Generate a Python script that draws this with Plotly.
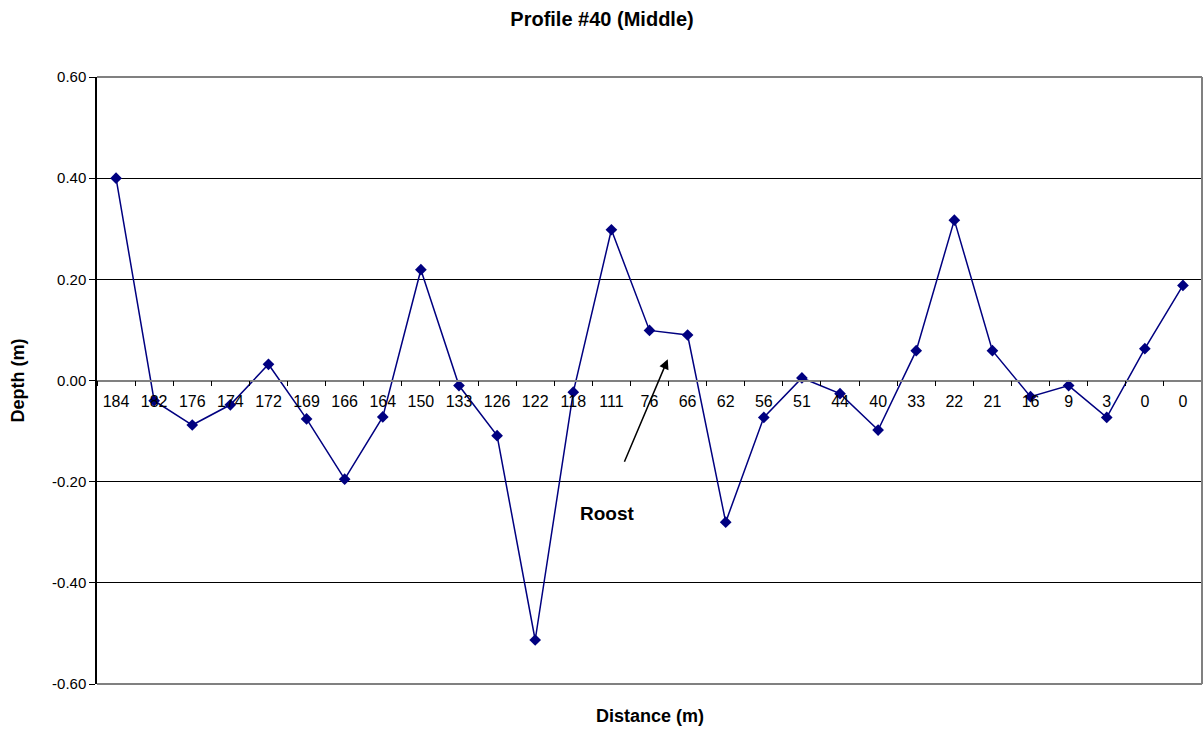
import plotly.graph_objects as go

# Survey profile #40: distance labels along the line and measured depth
distance_labels = ["184", "182", "176", "174", "172", "169", "166", "164", "150", "133",
                   "126", "122", "118", "111", "76", "66", "62", "56", "51", "44",
                   "40", "33", "22", "21", "16", "9", "3", "0", "0"]
depth_m = [0.40, -0.040, -0.088, -0.048, 0.032, -0.076, -0.195, -0.072, 0.219, -0.010,
           -0.109, -0.513, -0.023, 0.298, 0.099, 0.090, -0.280, -0.073, 0.005, -0.026,
           -0.098, 0.059, 0.317, 0.059, -0.032, -0.010, -0.073, 0.063, 0.188]
depth_ticks = [-0.6, -0.4, -0.2, 0.0, 0.2, 0.4, 0.6]
depth_tick_text = ["-0.60", "-0.40", "-0.20", "0.00", "0.20", "0.40", "0.60"]

idx = list(range(len(distance_labels)))
FONT = "Liberation Sans, Arial, sans-serif"
NAVY = "#000080"
BORDER = "#808080"

fig = go.Figure()
fig.add_trace(go.Scatter(
    x=idx, y=depth_m, mode="lines+markers",
    line=dict(color=NAVY, width=1.5),
    marker=dict(symbol="diamond", size=9, color=NAVY),
    hoverinfo="skip", showlegend=False,
))

fig.update_layout(
    width=1204, height=730,
    margin=dict(l=97, r=2, t=77, b=46),
    paper_bgcolor="white", plot_bgcolor="white",
    font=dict(family=FONT, color="black"),
    title=dict(text="<b>Profile #40 (Middle)</b>", xref="container", x=0.5,
               yref="container", y=1 - 19 / 730, yanchor="middle", xanchor="center",
               font=dict(size=20, family=FONT)),
    xaxis=dict(
        range=[-0.5, len(idx) - 0.5], tickmode="array", tickvals=idx,
        ticktext=distance_labels, ticks="outside", ticklen=7,
        tickcolor="rgba(0,0,0,0)", tickfont=dict(size=16),
        showgrid=False, zeroline=False,
        showline=True, linecolor=BORDER, linewidth=1.5,
        anchor="free", position=0.5,
        minor=dict(ticks="outside", tickmode="linear", tick0=-0.5, dtick=1,
                   ticklen=5, tickcolor="black", tickwidth=1, showgrid=False),
    ),
    yaxis=dict(
        range=[-0.6, 0.6], tickmode="array", tickvals=depth_ticks,
        ticktext=depth_tick_text, ticks="outside", ticklen=6, tickcolor="black",
        tickfont=dict(size=15), showgrid=True, gridcolor="black", gridwidth=1,
        zeroline=False, showline=True, linecolor="black", linewidth=1.5,
    ),
    annotations=[
        dict(text="<b>Distance (m)</b>", xref="paper", yref="paper", x=0.5, y=0,
             yshift=-32, showarrow=False, yanchor="middle", font=dict(size=18)),
        dict(text="<b>Depth (m)</b>", xref="paper", yref="paper", x=0, y=0.5,
             xshift=-80, textangle=-90, showarrow=False, xanchor="center",
             font=dict(size=18)),
        dict(text="<b>Roost</b>", x=12.9, y=-0.263, showarrow=False,
             font=dict(size=19)),
        dict(text="", x=14.48, y=0.042, ax=-44, ay=104, showarrow=True,
             arrowhead=2, arrowsize=1.3, arrowwidth=1.5, arrowcolor="black"),
    ],
    shapes=[
        dict(type="line", xref="paper", yref="paper", x0=0, x1=1, y0=1, y1=1,
             line=dict(color=BORDER, width=2), layer="above"),
        dict(type="line", xref="paper", yref="paper", x0=1, x1=1, y0=0, y1=1,
             line=dict(color=BORDER, width=2), layer="above"),
        dict(type="line", xref="paper", yref="paper", x0=0, x1=1, y0=0, y1=0,
             line=dict(color=BORDER, width=2), layer="above"),
    ],
)

fig.write_html("out.html")
